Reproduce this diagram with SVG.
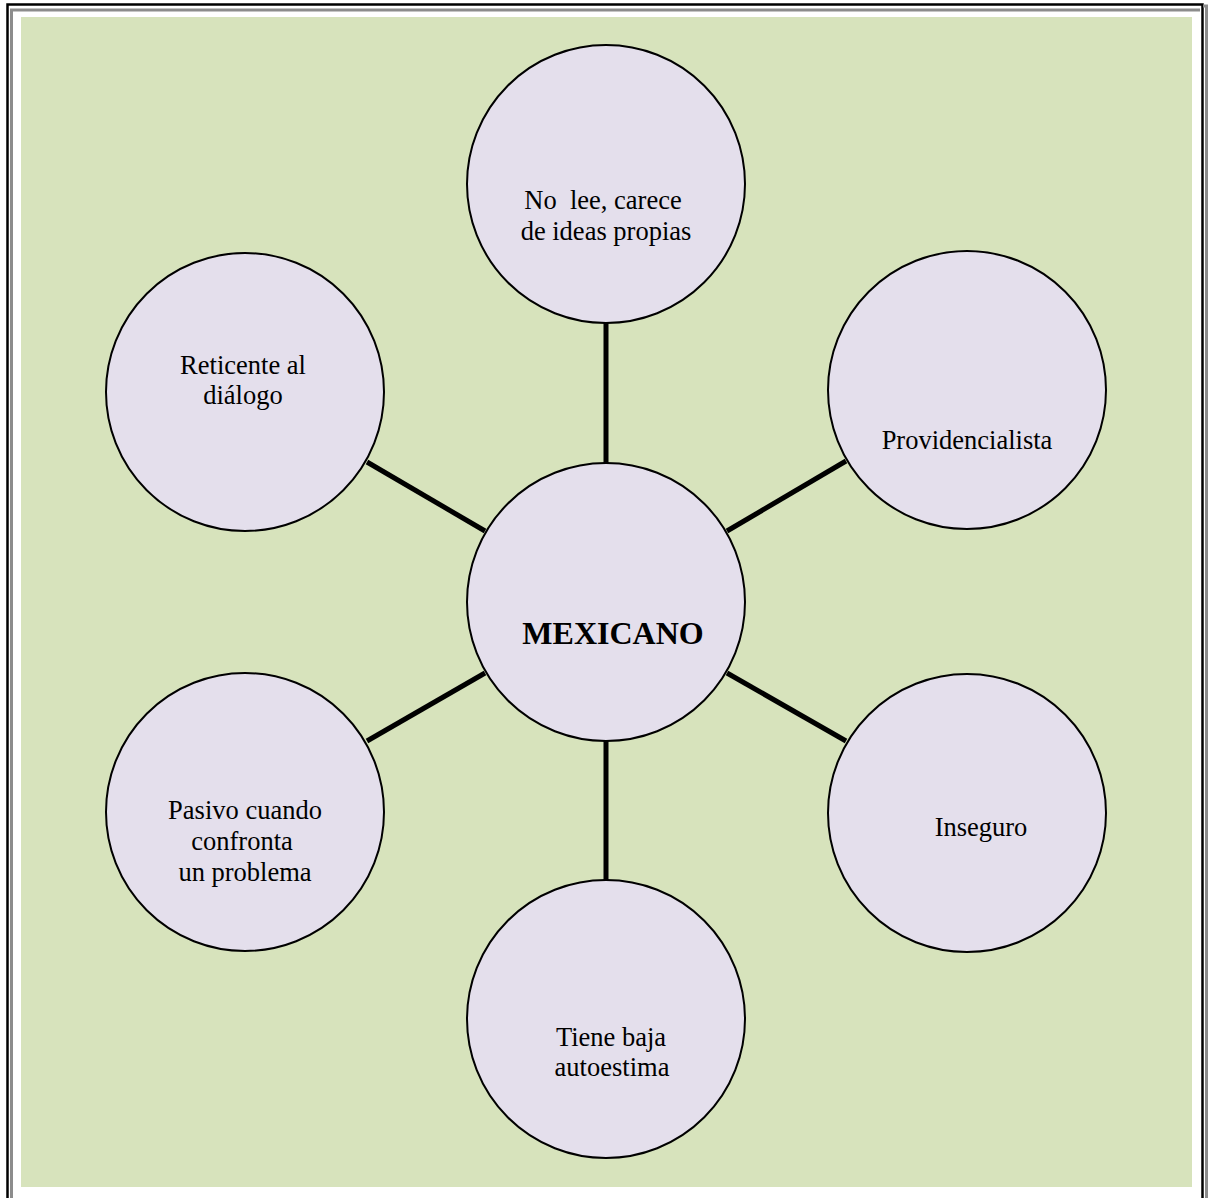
<svg xmlns="http://www.w3.org/2000/svg" width="1209" height="1198" viewBox="0 0 1209 1198">
  <style>
    .node circle { fill: #e4dfec; stroke: #000; stroke-width: 2; }
    .label { font-family: "Liberation Serif", "Times New Roman", serif; font-size: 26.5px; fill: #000; text-anchor: middle; white-space: pre; }
    .title { font-weight: bold; font-size: 32px; }
    .links line { stroke: #000; stroke-width: 5; }
  </style>

  <!-- page background and framed border -->
  <rect x="0" y="0" width="1209" height="1198" fill="#ffffff"/>
  <path d="M7.5 1200 V4.5 H1202.5 V1200" fill="none" stroke="#000" stroke-width="2.5"/>
  <path d="M11.5 1200 V10 H1200" fill="none" stroke="#8c8c8c" stroke-width="3"/>
  <path d="M1203 6 H1206.5 V1200" fill="none" stroke="#8c8c8c" stroke-width="3"/>
  <rect x="21" y="17" width="1171" height="1170" fill="#d7e3bc"/>

  <!-- spokes from the central node -->
  <g id="connectors" class="links">
    <line x1="606" y1="323" x2="606" y2="463"/>
    <line x1="606" y1="741" x2="606" y2="880"/>
    <line x1="367" y1="462" x2="485" y2="531"/>
    <line x1="367" y1="741" x2="485" y2="673"/>
    <line x1="846" y1="461" x2="727" y2="531"/>
    <line x1="846" y1="741" x2="727" y2="673"/>
  </g>

  <g id="center" class="node">
    <circle cx="606" cy="602" r="139"/>
    <text class="label title" x="613" y="644">MEXICANO</text>
  </g>

  <g id="top" class="node">
    <circle cx="606" cy="184" r="139"/>
    <text class="label" x="603" y="209">No  lee, carece</text>
    <text class="label" x="606" y="240">de ideas propias</text>
  </g>

  <g id="upper-left" class="node">
    <circle cx="245" cy="392" r="139"/>
    <text class="label" x="243" y="374">Reticente al</text>
    <text class="label" x="243" y="404">diálogo</text>
  </g>

  <g id="upper-right" class="node">
    <circle cx="967" cy="390" r="139"/>
    <text class="label" x="967" y="449">Providencialista</text>
  </g>

  <g id="lower-left" class="node">
    <circle cx="245" cy="812" r="139"/>
    <text class="label" x="245" y="819">Pasivo cuando</text>
    <text class="label" x="242" y="850">confronta</text>
    <text class="label" x="245" y="881">un problema</text>
  </g>

  <g id="lower-right" class="node">
    <circle cx="967" cy="813" r="139"/>
    <text class="label" x="981" y="836">Inseguro</text>
  </g>

  <g id="bottom" class="node">
    <circle cx="606" cy="1019" r="139"/>
    <text class="label" x="611" y="1046">Tiene baja</text>
    <text class="label" x="612" y="1076">autoestima</text>
  </g>
</svg>
